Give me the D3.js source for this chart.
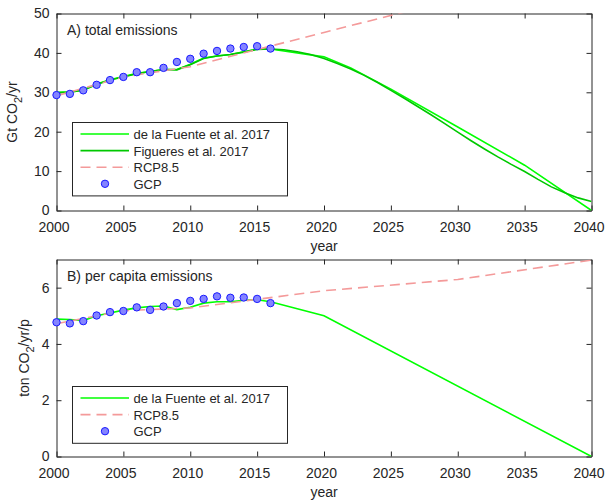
<!DOCTYPE html>
<html>
<head>
<meta charset="utf-8">
<script src="https://cdn.jsdelivr.net/npm/d3@7"></script>
<style>
  body { margin: 0; background: #fff; }
  text { font-family: "Liberation Sans", Arial, Helvetica, sans-serif; fill: #262626; }
</style>
</head>
<body>
<svg id="chart" width="606" height="502"></svg>
<script>
// ---- Data ----
const gcpYears = d3.range(2000, 2017);
const gcpTotal = [29.3, 29.6, 30.5, 31.9, 33.1, 33.9, 35.1, 35.1, 36.2, 37.7, 38.5, 39.8, 40.5, 41.1, 41.5, 41.7, 41.1];
const gcpPerCapita = [4.77, 4.73, 4.81, 5.01, 5.13, 5.17, 5.30, 5.21, 5.33, 5.45, 5.53, 5.60, 5.69, 5.64, 5.65, 5.60, 5.45];

const fuenteTotalYears = [2000, 2001, 2002, 2003, 2004, 2005, 2006, 2007, 2008, 2009, 2010, 2011, 2012, 2013, 2014, 2015, 2016, 2020, 2022, 2025, 2030, 2035, 2040];
const fuenteTotal = [30.0, 30.1, 30.6, 32.1, 33.2, 34.0, 34.8, 35.3, 35.8, 35.8, 37.1, 38.7, 39.2, 39.6, 40.3, 41.0, 41.0, 39.0, 36.2, 30.8, 21.2, 11.5, 0.0];

const figueresYears = [2000, 2001, 2002, 2003, 2004, 2005, 2006, 2007, 2008, 2009, 2010, 2011, 2012, 2013, 2014, 2015, 2016,
  2017, 2018, 2019, 2020, 2021, 2022, 2023, 2024, 2025, 2026, 2027, 2028, 2029, 2030, 2031, 2032, 2033, 2034, 2035, 2036, 2037, 2038, 2039, 2040];
const figueresTotal = [29.9, 30.0, 30.5, 32.0, 33.1, 33.9, 34.7, 35.3, 35.8, 35.7, 37.0, 38.6, 39.2, 39.6, 40.2, 40.9, 41.0,
  40.8, 40.3, 39.6, 38.6, 37.3, 35.9, 34.3, 32.5, 30.5, 28.5, 26.4, 24.3, 22.1, 19.9, 17.7, 15.6, 13.6, 11.7, 9.9, 7.9, 6.0, 4.5, 3.2, 2.3];

const rcpYears = [2000, 2005, 2010, 2020, 2030, 2040];
const rcpTotal = [29.1, 33.9, 36.5, 45.2, 53.8, 62.0];
const rcpPerCapita = [4.72, 5.18, 5.28, 5.89, 6.29, 6.98];

const fuentePcYears = [2000, 2001, 2002, 2003, 2004, 2005, 2006, 2007, 2008, 2009, 2010, 2011, 2012, 2013, 2014, 2015, 2016, 2020, 2040];
const fuentePerCapita = [4.88, 4.87, 4.83, 5.00, 5.10, 5.20, 5.28, 5.33, 5.35, 5.22, 5.30, 5.45, 5.50, 5.50, 5.55, 5.57, 5.50, 5.00, 0.0];

const xTicks = [2000, 2005, 2010, 2015, 2020, 2025, 2030, 2035, 2040];
const yTicksTotal = [0, 10, 20, 30, 40, 50];
const yTicksPc = [0, 2, 4, 6];

// ---- Styles ----
const colFuente = "#00ff00";
const colFigueres = "#00c800";
const colRcp = "#f49a9a";
const rcpDash = "10,6";
const colGcpFill = "#8484ff";
const colGcpStroke = "#1a1aff";
const axisCol = "#262626";

const svg = d3.select("#chart");
const left = 56.5, right = 591.5;

const x = d3.scaleLinear().domain([2000, 2040]).range([left, right]);

function panel(cfg) {
  const y = d3.scaleLinear().domain(cfg.yDomain).range([cfg.bottom, cfg.top]);
  const g = svg.append("g");
  const clipId = "clip-" + cfg.id;
  svg.append("clipPath").attr("id", clipId)
    .append("rect").attr("x", left).attr("y", cfg.top)
    .attr("width", right - left).attr("height", cfg.bottom - cfg.top);

  // axes: bottom/left with labels, top/right mirrored, all ticks inward
  const tick = 5;
  const xb = g.append("g").attr("transform", `translate(0,${cfg.bottom})`)
    .call(d3.axisBottom(x).tickValues(xTicks).tickFormat(d3.format("d")).tickSizeInner(-tick).tickSizeOuter(0).tickPadding(12));
  xb.selectAll(".tick text").attr("dx", -3);
  g.append("g").attr("transform", `translate(0,${cfg.top})`)
    .call(d3.axisTop(x).tickValues(xTicks).tickFormat("").tickSizeInner(-tick).tickSizeOuter(0));
  g.append("g").attr("transform", `translate(${left},0)`)
    .call(d3.axisLeft(y).tickValues(cfg.yTicks).tickFormat(d3.format("d")).tickSizeInner(-tick).tickSizeOuter(0).tickPadding(7));
  g.append("g").attr("transform", `translate(${right},0)`)
    .call(d3.axisRight(y).tickValues(cfg.yTicks).tickFormat("").tickSizeInner(-tick).tickSizeOuter(0));
  g.selectAll(".domain").attr("stroke", axisCol).attr("stroke-width", 1);
  g.selectAll(".tick line").attr("stroke", axisCol);
  g.selectAll(".tick text").attr("font-size", 14).attr("fill", axisCol)
    .attr("font-family", "Liberation Sans, Arial, sans-serif");

  const plot = svg.append("g").attr("clip-path", `url(#${clipId})`);
  const line = d3.line().x(d => x(d[0])).y(d => y(d[1]));

  cfg.series.forEach(s => {
    plot.append("path")
      .datum(s.years.map((yr, i) => [yr, s.values[i]]))
      .attr("d", line)
      .attr("fill", "none")
      .attr("stroke", s.color)
      .attr("stroke-width", 1.6)
      .attr("stroke-dasharray", s.dash || null);
  });

  svg.append("g").selectAll("circle")
    .data(gcpYears.map((yr, i) => [yr, cfg.gcp[i]]))
    .join("circle")
    .attr("cx", d => x(d[0])).attr("cy", d => y(d[1]))
    .attr("r", 3.7)
    .attr("fill", colGcpFill).attr("stroke", colGcpStroke).attr("stroke-width", 1);

  // panel title
  svg.append("text").attr("x", 67).attr("y", cfg.top + 21.5)
    .attr("font-size", 14).text(cfg.title);

  // x label
  svg.append("text").attr("x", (left + right) / 2).attr("y", cfg.bottom + 40)
    .attr("text-anchor", "middle").attr("font-size", 14).text("year");

  // y label with subscript
  const yl = svg.append("text")
    .attr("transform", `translate(${cfg.ylabelX},${(cfg.top + cfg.bottom) / 2}) rotate(-90)`)
    .attr("text-anchor", "middle").attr("font-size", 14);
  yl.append("tspan").text(cfg.ylabel[0]);
  yl.append("tspan").attr("dy", 5).attr("font-size", 11).text("2");
  yl.append("tspan").attr("dy", -5).text(cfg.ylabel[1]);

  // legend
  const lg = svg.append("g");
  const entries = cfg.legend;
  const lh = 16.6;
  const boxH = entries.length * lh + 7;
  lg.append("rect").attr("x", 72.5).attr("y", cfg.legendTop + 0.5)
    .attr("width", 215).attr("height", boxH)
    .attr("fill", "#fff").attr("stroke", axisCol).attr("stroke-width", 1);
  entries.forEach((e, i) => {
    const cy = cfg.legendTop + 12 + i * lh;
    if (e.marker) {
      lg.append("circle").attr("cx", 105).attr("cy", cy).attr("r", 3.7)
        .attr("fill", colGcpFill).attr("stroke", colGcpStroke).attr("stroke-width", 1);
    } else {
      lg.append("line").attr("x1", 80.5).attr("x2", 129).attr("y1", cy).attr("y2", cy)
        .attr("stroke", e.color).attr("stroke-width", 1.6)
        .attr("stroke-dasharray", e.dash || null);
    }
    lg.append("text").attr("x", 133.5).attr("y", cy + 5).attr("font-size", 13).text(e.label);
  });
}

panel({
  id: "a", top: 13.5, bottom: 210.5, yDomain: [0, 50], yTicks: yTicksTotal,
  title: "A) total emissions", ylabel: ["Gt CO", "/yr"], ylabelX: 17,
  gcp: gcpTotal,
  series: [
    { years: fuenteTotalYears, values: fuenteTotal, color: colFuente },
    { years: figueresYears, values: figueresTotal, color: colFigueres },
    { years: rcpYears, values: rcpTotal, color: colRcp, dash: rcpDash }
  ],
  legendTop: 122,
  legend: [
    { label: "de la Fuente et al. 2017", color: colFuente },
    { label: "Figueres et al. 2017", color: colFigueres },
    { label: "RCP8.5", color: colRcp, dash: rcpDash },
    { label: "GCP", marker: true }
  ]
});

panel({
  id: "b", top: 259.5, bottom: 456.5, yDomain: [0, 7], yTicks: yTicksPc,
  title: "B) per capita emissions", ylabel: ["ton CO", "/yr/p"], ylabelX: 29,
  gcp: gcpPerCapita,
  series: [
    { years: fuentePcYears, values: fuentePerCapita, color: colFuente },
    { years: rcpYears, values: rcpPerCapita, color: colRcp, dash: rcpDash }
  ],
  legendTop: 386,
  legend: [
    { label: "de la Fuente et al. 2017", color: colFuente },
    { label: "RCP8.5", color: colRcp, dash: rcpDash },
    { label: "GCP", marker: true }
  ]
});
</script>
</body>
</html>
